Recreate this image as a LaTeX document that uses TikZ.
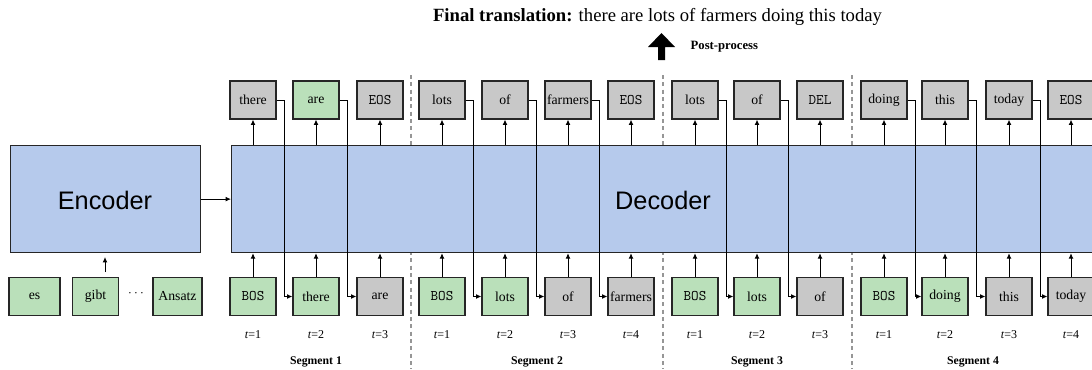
\documentclass[tikz,border=0pt]{standalone}
\usepackage{fontspec}
\setmainfont{Liberation Serif}
\setsansfont{Liberation Sans}
\usetikzlibrary{arrows.meta}
\definecolor{boxgreen}{RGB}{186,224,186}
\definecolor{boxgray}{RGB}{200,200,200}
\definecolor{boxblue}{RGB}{182,202,236}
\definecolor{segline}{RGB}{150,150,150}
\newcommand\tokmono[1]{{\ttfamily\fontsize{11}{12}\selectfont #1}}
\tikzset{
  tok/.style={draw=black!85, line width=0.9pt, minimum width=34.5pt, minimum height=28.5pt,
    inner sep=0pt, font=\fontsize{10.3}{12}\selectfont},
  gtok/.style={tok, fill=boxgreen},
  ytok/.style={tok, fill=boxgray},
  big/.style={draw=black!85, line width=0.9pt, fill=boxblue, inner sep=0pt,
    minimum height=80.25pt, font=\sffamily\fontsize{19}{22}\selectfont},
  arr/.style={-{Latex[length=4pt,width=3.6pt]}, line width=0.7pt},
  segsep/.style={draw=segline, line width=1.3pt, dash pattern=on 3pt off 2.5pt},
  tlab/.style={font=\fontsize{9}{11}\selectfont},
  seglab/.style={font=\bfseries\fontsize{8.8}{11}\selectfont},
}
\begin{document}
\begin{tikzpicture}[x=0.75pt,y=-0.75pt]
\useasboundingbox (0,0) rectangle (1092,369);

% segment separators
\foreach \sx/\nm in {411/s1,663/s2,852/s3}{
  \coordinate (\nm a) at (\sx,75);
  \coordinate (\nm b) at (\sx,369);
  \draw[segsep] (\nm a) -- (\nm b);
}

% encoder / decoder
\node[big, minimum width=142.5pt, anchor=north west] (enc) at (10,145) {};
\node[font=\sffamily\fontsize{19}{22}\selectfont] (enclab) at (105,200) {Encoder};
\node[big, minimum width=662pt, anchor=north west] (dec) at (231,145) {};
\node[font=\sffamily\fontsize{19}{22}\selectfont] (declab) at (663,200) {Decoder};
\draw[arr] (enc.east) -- (dec.west);

% encoder inputs
\node[gtok, minimum width=38.25pt] (es) at (34.5,296.5) {es};
\node[gtok] (gibt) at (95.5,296.5) {gibt};
\node (dots) at (136,294) {$\cdots$};
\node[gtok, minimum width=36.75pt] (ansatz) at (177.5,296.5) {Ansatz};
\coordinate (ga) at (105,272);
\coordinate (gb) at (105,257);
\draw[arr] (ga) -- (gb);

% top tokens
\foreach \x/\nm/\txt/\st in {
  253/t11/there/ytok, 316/t12/are/gtok, 380/t13/\tokmono{EOS}/ytok,
  442/t21/lots/ytok, 505/t22/of/ytok, 568/t23/farmers/ytok, 631/t24/\tokmono{EOS}/ytok,
  695/t31/lots/ytok, 757/t32/of/ytok, 820/t33/\tokmono{DEL}/ytok,
  884/t41/doing/ytok, 945/t42/this/ytok, 1009/t43/today/ytok, 1071/t44/\tokmono{EOS}/ytok}{
  \node[\st] (\nm) at (\x,100) {\txt};
  \draw[arr] (\nm.south |- dec.north) -- (\nm.south);
}

% bottom tokens
\foreach \x/\nm/\txt/\st/\tl in {
  253/b11/\tokmono{BOS}/gtok/1, 316/b12/there/gtok/2, 380/b13/are/ytok/3,
  442/b21/\tokmono{BOS}/gtok/1, 505/b22/lots/gtok/2, 568/b23/of/ytok/3, 631/b24/farmers/ytok/4,
  695/b31/\tokmono{BOS}/gtok/1, 757/b32/lots/gtok/2, 820/b33/of/ytok/3,
  884/b41/\tokmono{BOS}/gtok/1, 945/b42/doing/gtok/2, 1009/b43/this/ytok/3, 1071/b44/today/ytok/4}{
  \node[\st] (\nm) at (\x,296.5) {\txt};
  \draw[arr] (\nm.north) -- (\nm.north |- dec.south);
  \node[tlab] (\nm t) at (\x,335) {\textit{t}=\tl};
}

% feedback connections
\foreach \a/\b in {t11/b12, t12/b13, t21/b22, t22/b23, t23/b24, t31/b32, t32/b33,
  t41/b42, t42/b43, t43/b44}{
  \draw[arr] (\a.east) -- ++(8,0) |- (\b.west);
}

% segment labels
\node[seglab] (seg1) at (316,362) {Segment 1};
\node[seglab] (seg2) at (537,362) {Segment 2};
\node[seglab] (seg3) at (757,362) {Segment 3};
\node[seglab] (seg4) at (973,362) {Segment 4};

% post-process
\fill (658,60) -- (665,60) -- (665,47) -- (675,47) -- (661.5,33) -- (648,47) -- (658,47) -- cycle;
\node[font=\bfseries\fontsize{9.5}{11}\selectfont, anchor=west] (pp) at (686,47) {Post-process};
\node[font=\fontsize{14}{16}\selectfont] (final) at (657.5,17) {\textbf{Final translation:} there are lots of farmers doing this today};
\end{tikzpicture}
\end{document}
